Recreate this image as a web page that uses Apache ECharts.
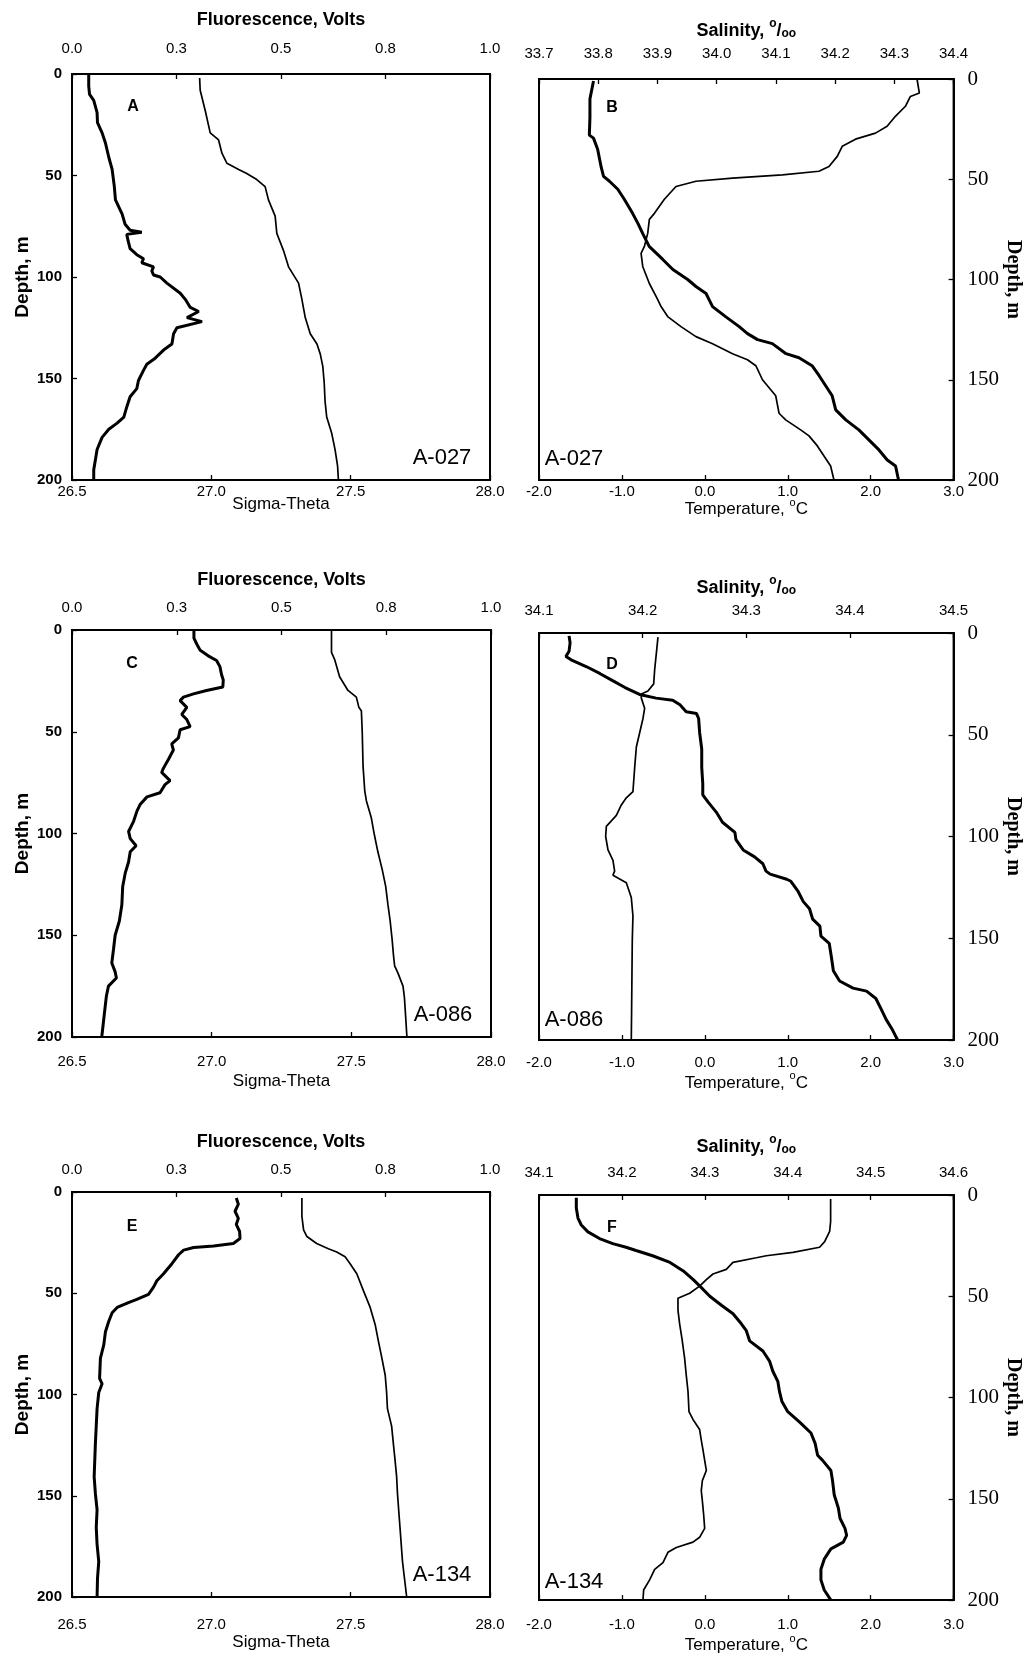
<!DOCTYPE html>
<html>
<head>
<meta charset="utf-8">
<script src="https://cdn.jsdelivr.net/npm/echarts/dist/echarts.min.js"></script>
<style>
  html, body { margin: 0; padding: 0; background: #fff; }
  #chart { width: 1024px; height: 1655px; }
</style>
</head>
<body>
<div id="chart"></div>
<script>
// ---- Tick labels ----
const fluorTicks = ['0.0', '0.3', '0.5', '0.8', '1.0'];
const sigmaTicks = ['26.5', '27.0', '27.5', '28.0'];
const tempTicks = ['-2.0', '-1.0', '0.0', '1.0', '2.0', '3.0'];
const depthTicks = ['0', '50', '100', '150', '200'];
const salTicksB = ['33.7', '33.8', '33.9', '34.0', '34.1', '34.2', '34.3', '34.4'];
const salTicksD = ['34.1', '34.2', '34.3', '34.4', '34.5'];
const salTicksF = ['34.1', '34.2', '34.3', '34.4', '34.5', '34.6'];

// ---- Station profiles: [value, depth m] ----
// Station A-027
const fluorA027 = [[0.040,0],[0.040,6],[0.042,10],[0.052,13],[0.060,19],[0.061,24],[0.072,29],[0.080,34],[0.088,41],[0.096,47],[0.101,55],[0.104,62],[0.120,69],[0.127,74],[0.139,77],[0.167,78],[0.131,79],[0.134,82],[0.139,86],[0.155,89],[0.171,91],[0.167,93],[0.195,95],[0.191,97],[0.195,99],[0.211,100],[0.227,103],[0.259,108],[0.271,111],[0.283,115],[0.303,117],[0.275,120],[0.311,122],[0.251,125],[0.243,128],[0.239,133],[0.219,136],[0.199,140],[0.179,143],[0.171,146],[0.159,151],[0.155,155],[0.139,159],[0.131,164],[0.124,169],[0.108,172],[0.088,175],[0.072,179],[0.060,185],[0.056,190],[0.052,195],[0.052,200]];
const sigmaA027 = [[26.958,2],[26.960,8],[26.978,18],[26.996,29],[27.026,32.5],[27.038,39],[27.056,44],[27.098,47],[27.127,49],[27.163,52],[27.193,55.5],[27.205,62],[27.229,70],[27.235,78.5],[27.259,87],[27.277,95],[27.313,103],[27.325,111],[27.337,120],[27.355,128],[27.379,133],[27.391,138],[27.400,144],[27.405,152],[27.408,161],[27.414,169],[27.432,177],[27.444,185],[27.453,193],[27.456,200]];
const salA027 = [[33.792,1],[33.786,10],[33.786,19],[33.785,28],[33.792,29.5],[33.799,35],[33.805,44],[33.809,48.6],[33.819,51],[33.833,55],[33.844,60],[33.858,67],[33.867,72],[33.875,77],[33.886,83.5],[33.909,90],[33.926,95],[33.951,100],[33.965,103.5],[33.982,107],[33.993,113.5],[34.015,118.5],[34.038,123.5],[34.052,127],[34.069,130],[34.094,132],[34.117,137],[34.139,139],[34.161,143],[34.173,148],[34.184,153],[34.195,158],[34.201,165],[34.218,170],[34.240,175],[34.257,180],[34.274,185],[34.288,190],[34.302,193],[34.307,200]];
const tempA027 = [[2.559,0],[2.587,7],[2.479,8.7],[2.419,13.6],[2.298,18.6],[2.198,23.6],[2.058,27],[1.817,30],[1.657,33.6],[1.597,38.6],[1.497,43.6],[1.376,46],[0.935,47.8],[0.334,49.4],[-0.107,51],[-0.348,53.6],[-0.488,60],[-0.608,67],[-0.669,70],[-0.689,77],[-0.729,83.5],[-0.769,87],[-0.749,93.5],[-0.669,102],[-0.568,110],[-0.528,113.5],[-0.448,118.5],[-0.288,123.5],[-0.107,128.5],[0.093,132],[0.334,137],[0.514,140],[0.615,143],[0.695,150],[0.795,155],[0.855,158],[0.895,166.7],[0.975,170],[1.156,175],[1.256,178],[1.357,183],[1.437,188],[1.517,193],[1.557,200]];

// Station A-086
const fluorA086 = [[0.291,0],[0.291,4],[0.298,7],[0.306,10],[0.325,12.7],[0.345,15],[0.353,18],[0.357,22],[0.361,24.6],[0.360,28],[0.321,29.7],[0.290,31.4],[0.266,33],[0.258,34.7],[0.274,38],[0.262,41.5],[0.274,44],[0.282,47.5],[0.258,49],[0.254,53],[0.238,56],[0.242,59],[0.230,63.6],[0.218,68],[0.214,70],[0.234,74],[0.222,76],[0.210,80],[0.179,82],[0.163,85.6],[0.155,89],[0.147,94],[0.135,99],[0.139,102.5],[0.153,106],[0.139,109],[0.135,114],[0.127,119.5],[0.121,126],[0.119,135],[0.113,143],[0.103,150],[0.099,157],[0.095,163.6],[0.103,168],[0.106,171],[0.087,175],[0.082,180],[0.077,189],[0.071,200]];
const sigmaA086 = [[27.429,0],[27.429,11],[27.440,14.4],[27.458,23],[27.488,29.7],[27.518,33],[27.527,38],[27.536,39.8],[27.539,50],[27.542,67],[27.548,79],[27.554,84],[27.571,92],[27.583,101],[27.595,109],[27.611,118],[27.623,126],[27.631,135],[27.639,143],[27.646,152],[27.651,160],[27.655,165],[27.667,168.6],[27.685,175],[27.690,180.5],[27.694,189],[27.699,200]];
const salA086 = [[34.129,1.4],[34.130,4.8],[34.129,9],[34.126,11.5],[34.131,13.2],[34.146,16.6],[34.159,20],[34.171,23.4],[34.183,26.8],[34.197,30.2],[34.213,32],[34.229,33],[34.236,35.3],[34.242,38.7],[34.252,39.6],[34.254,42],[34.255,49],[34.257,57],[34.257,66],[34.258,74],[34.258,79.5],[34.263,83],[34.271,88],[34.277,93],[34.289,98],[34.290,101.5],[34.297,106.6],[34.308,110],[34.316,113.4],[34.319,117],[34.323,118.5],[34.339,121],[34.343,122],[34.350,127],[34.355,132],[34.361,135.5],[34.364,140.6],[34.371,144],[34.372,149],[34.380,152.5],[34.382,159],[34.384,166],[34.390,171],[34.403,174.5],[34.416,176],[34.425,179.6],[34.430,184.7],[34.435,190],[34.441,195],[34.446,200]];
const tempA086 = [[-0.565,2],[-0.585,10],[-0.605,18],[-0.617,25],[-0.686,28.5],[-0.766,30],[-0.766,32],[-0.726,37],[-0.746,42],[-0.786,49],[-0.826,56],[-0.846,66],[-0.867,78],[-0.947,81],[-1.007,84.5],[-1.067,89.6],[-1.188,95],[-1.196,100],[-1.168,106.6],[-1.108,111.7],[-1.088,117],[-1.108,119],[-0.947,122.7],[-0.887,130],[-0.867,139],[-0.875,151],[-0.879,168],[-0.883,185],[-0.887,200]];

// Station A-134
const fluorA134 = [[0.393,3],[0.398,6],[0.390,9.5],[0.398,13],[0.393,16],[0.401,19.5],[0.402,23],[0.386,25.4],[0.339,26.7],[0.291,27.4],[0.267,28.7],[0.255,31],[0.239,35.4],[0.219,40.4],[0.203,43.8],[0.195,47],[0.183,50.5],[0.155,53],[0.135,54.6],[0.108,57],[0.096,59.6],[0.088,63.8],[0.080,69],[0.076,75.5],[0.068,82],[0.066,92],[0.072,94.7],[0.064,99],[0.060,107],[0.056,124],[0.053,140.7],[0.056,149],[0.060,157],[0.058,165.7],[0.060,174],[0.064,182.5],[0.061,190.8],[0.060,200]];
const sigmaA134 = [[27.325,3],[27.325,12],[27.331,18.7],[27.343,22],[27.378,25.4],[27.420,28],[27.450,29.6],[27.480,32],[27.498,35.4],[27.522,40.4],[27.546,48.8],[27.570,57],[27.588,65.5],[27.600,74],[27.612,82],[27.624,90.5],[27.629,99],[27.632,107],[27.647,115.6],[27.653,124],[27.659,132],[27.665,140.7],[27.668,149],[27.677,165.7],[27.686,182.5],[27.701,200]];
const salA134 = [[34.145,1.3],[34.145,6.4],[34.147,11.4],[34.151,14.8],[34.159,18.2],[34.173,21.5],[34.189,24],[34.205,25.8],[34.217,27.4],[34.237,30],[34.258,33.3],[34.274,37.5],[34.286,41.8],[34.294,45],[34.306,50],[34.320,54.4],[34.334,58.6],[34.344,63.6],[34.350,67],[34.354,72],[34.370,77],[34.378,82],[34.382,87],[34.388,92],[34.390,97],[34.393,102],[34.400,107],[34.414,112],[34.428,117.5],[34.433,122.6],[34.436,128.5],[34.442,131],[34.452,136],[34.454,141],[34.456,148],[34.461,154.5],[34.463,159.6],[34.469,164.6],[34.471,168],[34.467,171.4],[34.452,174.7],[34.444,179.8],[34.440,184.8],[34.440,190],[34.444,195],[34.452,200]];
const tempA134 = [[1.517,2],[1.517,13],[1.505,18],[1.445,23],[1.384,25.8],[1.063,28.3],[0.741,30],[0.621,31],[0.339,33.3],[0.259,36.7],[0.098,39],[0.018,41.8],[-0.063,45],[-0.183,48.5],[-0.324,51],[-0.324,57],[-0.304,63.6],[-0.272,72],[-0.244,80.5],[-0.224,89],[-0.203,97],[-0.191,107],[-0.143,110.8],[-0.063,115.8],[-0.043,121],[-0.022,126],[-0.002,131],[0.018,136],[-0.030,141],[-0.043,146],[-0.030,151],[-0.014,158],[-0.002,164.6],[-0.063,169],[-0.143,171.4],[-0.344,174],[-0.445,176.4],[-0.505,181.5],[-0.605,184.8],[-0.666,190],[-0.738,195],[-0.746,200]];

// ---- Drawing ----
const SANS = '"Liberation Sans", Arial, Helvetica, sans-serif';
const SERIF = '"Liberation Serif", "Times New Roman", serif';
const INK = '#000';

function tickFormatter(labels, min, step) {
  return v => {
    const i = Math.round((v - min) / step);
    return labels[i] !== undefined ? labels[i] : '';
  };
}

// rich styles for the degree / per-mille marks in axis titles
const titleRich = {
  t: { fontFamily: SANS, fontSize: 17, color: INK, verticalAlign: 'bottom', lineHeight: 21 },
  sup: { fontFamily: SANS, fontSize: 11, color: INK, verticalAlign: 'top', lineHeight: 21 },
  tb: { fontFamily: SANS, fontSize: 18, fontWeight: 'bold', color: INK, verticalAlign: 'bottom', lineHeight: 22 },
  supb: { fontFamily: SANS, fontSize: 12, fontWeight: 'bold', color: INK, verticalAlign: 'top', lineHeight: 22 },
  subb: { fontFamily: SANS, fontSize: 12, fontWeight: 'bold', color: INK, verticalAlign: 'bottom', lineHeight: 20 }
};

const axisLineStyle = { show: true, onZero: false, lineStyle: { color: INK, width: 2 } };
const innerTick = { show: true, inside: true, length: 5, lineStyle: { color: INK, width: 1.3 } };

const panels = [
  { box: { left: 72, top: 74, width: 418, height: 406 }, side: 'left', letter: 'A', station: 'A-027',
    top: { min: 0, max: 1, step: 0.25, labels: fluorTicks, name: 'Fluorescence, Volts', gap: 45, margin: 18 },
    bottom: { min: 26.5, max: 28, step: 0.5, labels: sigmaTicks, name: 'Sigma-Theta', gap: 16, margin: 4, tight: true },
    thick: fluorA027, thin: sigmaA027, letterPos: [133, 107], stationPos: [442, 458] },
  { box: { left: 539, top: 79, width: 416, height: 401 }, side: 'right', letter: 'B', station: 'A-027',
    top: { min: 33.7, max: 34.4, step: 0.1, labels: salTicksB, name: 'sal', gap: 39, margin: 18 },
    bottom: { min: -2, max: 3, step: 1, labels: tempTicks, name: 'temp', gap: 17, margin: 4, tight: true },
    thick: salA027, thin: tempA027, letterPos: [612, 108], stationPos: [574, 459] },
  { box: { left: 72, top: 630, width: 419, height: 407 }, side: 'left', letter: 'C', station: 'A-086',
    top: { min: 0, max: 1, step: 0.25, labels: fluorTicks, name: 'Fluorescence, Volts', gap: 41, margin: 15 },
    bottom: { min: 26.5, max: 28, step: 0.5, labels: sigmaTicks, name: 'Sigma-Theta', gap: 36, margin: 17 },
    thick: fluorA086, thin: sigmaA086, letterPos: [132, 664], stationPos: [443, 1015] },
  { box: { left: 539, top: 633, width: 415, height: 407 }, side: 'right', letter: 'D', station: 'A-086',
    top: { min: 34.1, max: 34.5, step: 0.1, labels: salTicksD, name: 'sal', gap: 36, margin: 15 },
    bottom: { min: -2, max: 3, step: 1, labels: tempTicks, name: 'temp', gap: 28, margin: 15 },
    thick: salA086, thin: tempA086, letterPos: [612, 665], stationPos: [574, 1020] },
  { box: { left: 72, top: 1192, width: 418, height: 405 }, side: 'left', letter: 'E', station: 'A-134',
    top: { min: 0, max: 1, step: 0.25, labels: fluorTicks, name: 'Fluorescence, Volts', gap: 41, margin: 15 },
    bottom: { min: 26.5, max: 28, step: 0.5, labels: sigmaTicks, name: 'Sigma-Theta', gap: 37, margin: 20 },
    thick: fluorA134, thin: sigmaA134, letterPos: [132, 1227], stationPos: [442, 1575] },
  { box: { left: 539, top: 1195, width: 416, height: 407 }, side: 'right', letter: 'F', station: 'A-134',
    top: { min: 34.1, max: 34.6, step: 0.1, labels: salTicksF, name: 'sal', gap: 39, margin: 15 },
    bottom: { min: -2, max: 3, step: 1, labels: tempTicks, name: 'temp', gap: 25, margin: 17 },
    thick: salA134, thin: tempA134, letterPos: [612, 1228], stationPos: [574, 1582] }
];

const option = {
  animation: false,
  backgroundColor: '#fff',
  grid: [], xAxis: [], yAxis: [], series: [], graphic: []
};

function axisName(name) {
  if (name === 'sal') return '{tb|Salinity, }{supb|o}{tb|/}{subb|oo}';
  if (name === 'temp') return '{t|Temperature, }{sup|o}{t|C}';
  return name;
}

panels.forEach((p, gi) => {
  option.grid.push(Object.assign({
    show: true, borderWidth: 2, borderColor: INK, backgroundColor: 'transparent', containLabel: false
  }, p.box));

  // top axis: fluorescence or salinity
  option.xAxis.push({
    gridIndex: gi, type: 'value', position: 'top',
    min: p.top.min, max: p.top.max, interval: p.top.step,
    axisLine: axisLineStyle, axisTick: innerTick, splitLine: { show: false },
    axisLabel: {
      formatter: tickFormatter(p.top.labels, p.top.min, p.top.step),
      margin: p.top.margin, fontFamily: SANS, fontSize: 15, color: INK
    },
    name: axisName(p.top.name), nameLocation: 'middle', nameGap: p.top.gap,
    nameTextStyle: { fontFamily: SANS, fontSize: 18, fontWeight: 'bold', color: INK, rich: titleRich }
  });
  // bottom axis: sigma-theta or temperature
  const bottomAxis = {
    gridIndex: gi, type: 'value', position: 'bottom',
    min: p.bottom.min, max: p.bottom.max, interval: p.bottom.step,
    axisLine: axisLineStyle, axisTick: innerTick, splitLine: { show: false },
    axisLabel: {
      formatter: tickFormatter(p.bottom.labels, p.bottom.min, p.bottom.step),
      margin: p.bottom.margin, fontFamily: SANS, fontSize: 15, color: INK
    },
    name: axisName(p.bottom.name), nameLocation: 'middle', nameGap: p.bottom.gap,
    nameTextStyle: { fontFamily: SANS, fontSize: 17, color: INK, rich: titleRich }
  };
  if (p.bottom.tight) bottomAxis.nameMoveOverlap = false;
  option.xAxis.push(bottomAxis);
  // depth axis
  const left = p.side === 'left';
  option.yAxis.push({
    gridIndex: gi, type: 'value', inverse: true, position: p.side,
    min: 0, max: 200, interval: 50,
    axisLine: axisLineStyle, axisTick: innerTick, splitLine: { show: false },
    axisLabel: {
      formatter: tickFormatter(depthTicks, 0, 50),
      margin: left ? 10 : 14,
      fontFamily: left ? SANS : SERIF,
      fontWeight: left ? 'bold' : 'normal',
      fontSize: left ? 15 : 21, color: INK
    },
    name: 'Depth, m', nameLocation: 'middle',
    nameRotate: left ? 90 : -90, nameGap: left ? 40 : 41,
    nameTextStyle: { fontFamily: left ? SANS : SERIF, fontSize: left ? 19 : 20, fontWeight: 'bold', color: INK }
  });

  const xTop = gi * 2, xBottom = gi * 2 + 1;
  option.series.push({
    type: 'line', xAxisIndex: xBottom, yAxisIndex: gi, data: p.thin,
    showSymbol: false, symbol: 'none', silent: true,
    lineStyle: { color: INK, width: 1.7 }
  });
  option.series.push({
    type: 'line', xAxisIndex: xTop, yAxisIndex: gi, data: p.thick,
    showSymbol: false, symbol: 'none', silent: true,
    lineStyle: { color: INK, width: 3 }
  });

  option.graphic.push({
    type: 'text', x: p.letterPos[0], y: p.letterPos[1],
    style: { text: p.letter, fontFamily: SANS, fontSize: 16, fontWeight: 'bold', fill: INK,
             align: 'center', verticalAlign: 'middle' }
  });
  option.graphic.push({
    type: 'text', x: p.stationPos[0], y: p.stationPos[1],
    style: { text: p.station, fontFamily: SANS, fontSize: 22, fill: INK,
             align: 'center', verticalAlign: 'middle' }
  });
});

const chart = echarts.init(document.getElementById('chart'), null, { renderer: 'canvas' });
chart.setOption(option);
</script>
</body>
</html>
